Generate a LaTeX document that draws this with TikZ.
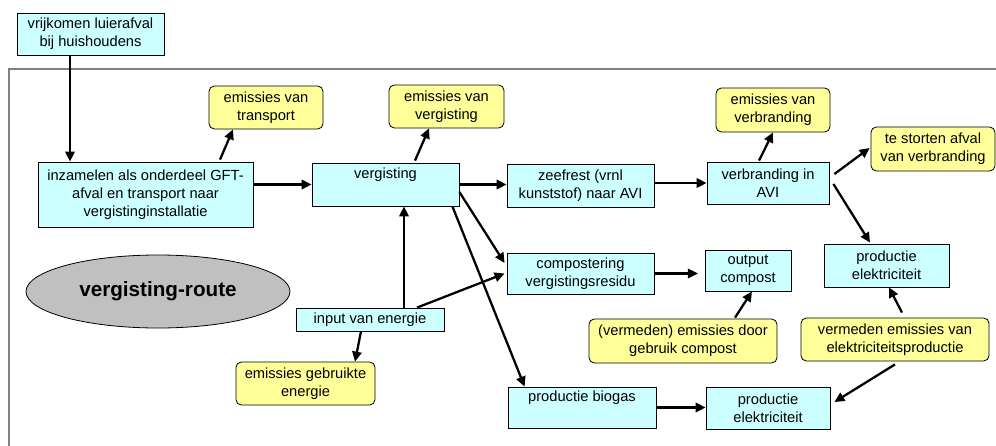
\documentclass[tikz,border=0pt]{standalone}
\usepackage{fontspec}
\setmainfont{Liberation Sans}
\usetikzlibrary{arrows.meta,shapes.geometric,calc}
\definecolor{procesblauw}{HTML}{CCFFFF}
\definecolor{emissiegeel}{HTML}{FFFF99}
\definecolor{routegrijs}{HTML}{C0C0C0}
\definecolor{kadergrijs}{HTML}{808080}

\tikzset{
  proces/.style={draw=black, line width=0.6pt, fill=procesblauw, inner sep=0pt,
    align=center, font=\fontsize{11}{13.5}\selectfont},
  emissie/.style={proces, fill=emissiegeel, rounded corners=4pt},
  route/.style={ellipse, draw=black, line width=0.6pt, fill=routegrijs, inner sep=0pt,
    font=\fontsize{15.5}{18}\selectfont\bfseries},
  pijl/.style={line width=1.7pt, -{Triangle[length=7.5pt,width=7pt]}},
}

\begin{document}
\begin{tikzpicture}[x=0.75pt, y=-0.75pt]
\useasboundingbox (0,0) rectangle (996,446);

% kader rond de route
\draw[kadergrijs, line width=1.1pt] (9,446) -- (9,69) -- (996,69);

% processen
\node[proces, minimum width=110.25pt, minimum height=31.5pt] (huis) at (90.5,34) {vrijkomen luierafval\\bij huishoudens};
\node[proces, minimum width=161.25pt, minimum height=48.75pt] (inzamelen) at (145.5,194.5) {inzamelen als onderdeel GFT-\\afval en transport naar\\vergistinginstallatie};
\node[proces, minimum width=110.25pt, minimum height=32.25pt] (vergisting) at (385.5,184.5) {vergisting\\\strut};
\node[proces, minimum width=110.25pt, minimum height=32.25pt] (zeefrest) at (580.5,185.5) {zeefrest (vrnl\\kunststof) naar AVI};
\node[proces, minimum width=91.5pt, minimum height=31.5pt] (verbranding) at (768,183) {verbranding in\\AVI};
\node[proces, minimum width=93.75pt, minimum height=32.25pt] (elekA) at (886.5,265.5) {productie\\elektriciteit};
\node[proces, minimum width=64.5pt, minimum height=30.75pt] (compost) at (748,270.5) {output\\compost};
\node[proces, minimum width=110.25pt, minimum height=30.75pt] (compostering) at (580.5,273.5) {compostering\\vergistingsresidu};
\node[proces, minimum width=111pt, minimum height=30.75pt] (biogas) at (582,407.5) {productie biogas\\\strut};
\node[proces, minimum width=93pt, minimum height=31.5pt] (elekB) at (768,408) {productie\\elektriciteit};
\node[proces, minimum width=111pt, minimum height=17.25pt] (input) at (370,319.5) {input van energie};

% emissies
\node[emissie, minimum width=85.5pt, minimum height=32.25pt] (emtransport) at (266,107.5) {emissies van\\transport};
\node[emissie, minimum width=86.25pt, minimum height=32.25pt] (emvergisting) at (446.5,106.5) {emissies van\\vergisting};
\node[emissie, minimum width=85.5pt, minimum height=33pt] (emverbranding) at (773,110) {emissies van\\verbranding};
\node[emissie, minimum width=93pt, minimum height=33pt] (storten) at (933,149) {te storten afval\\van verbranding};
\node[emissie, minimum width=141pt, minimum height=33pt] (emcompost) at (683,341) {(vermeden) emissies door\\gebruik compost};
\node[emissie, minimum width=141pt, minimum height=32.25pt] (emelek) at (895,339.5) {vermeden emissies van\\elektriciteitsproductie};
\node[emissie, minimum width=104.25pt, minimum height=32.25pt] (emenergie) at (305.5,383.5) {emissies gebruikte\\energie};

\node[route, minimum width=198pt, minimum height=54.75pt] (route) at (158,291.5) {vergisting-route};

% pijlen
\coordinate (huisuit) at ($(huis.south)+(-20.5,0)$);
\draw[pijl] (huisuit) -- (huisuit |- inzamelen.north);
\draw[pijl] ($(inzamelen.north)+(74.5,-2)$) -- ($(emtransport.south)+(-33,0)$);
\draw[pijl] (vergisting.west -| inzamelen.east) -- (vergisting.west);
\draw[pijl] ($(vergisting.north)+(29.5,-2)$) -- ($(emvergisting.south)+(-17.5,0)$);
\draw[pijl] (vergisting.east) -- (vergisting.east -| zeefrest.west);
\draw[pijl] (verbranding.west -| zeefrest.east) -- (verbranding.west);
\draw[pijl] ($(verbranding.north)+(-9,-1)$) -- (emverbranding.south);
\draw[pijl] ($(verbranding.east)+(5,-9)$) -- ($(storten.west)+(-1,-1)$);
\draw[pijl] ($(verbranding.east)+(4,1)$) -- ($(elekA.north)+(-16.5,-1)$);
\draw[pijl] ($(vergisting.south east)+(-7,0)$) -- ($(biogas.north west)+(17,0)$);
\draw[pijl] ($(vergisting.east)+(0,7.5)$) -- ($(compostering.west)+(-2,-10.5)$);
\draw[pijl] ($(input.north)+(47,0)$) -- ($(compostering.west)+(-2,0)$);
\coordinate (inputop) at ($(input.north)+(34,0)$);
\draw[pijl] (inputop) -- (inputop |- vergisting.south);
\draw[pijl] ($(input.south)+(-9,0)$) -- ($(emenergie.north)+(49.5,0)$);
\draw[pijl, shorten >=5pt] (compostering.east) -- (compostering.east -| compost.west);
\draw[pijl] ($(emcompost.north)+(52,-1)$) -- ($(compost.south)+(4,0)$);
\draw[pijl] ($(emelek.north)+(7,-5)$) -- ($(elekA.south)+(2.5,0)$);
\draw[pijl] ($(emelek.south)+(0,3)$) -- ($(elekB.east)+(4,-6)$);
\draw[pijl] (biogas.east) -- (biogas.east -| elekB.west);

\end{tikzpicture}
\end{document}
